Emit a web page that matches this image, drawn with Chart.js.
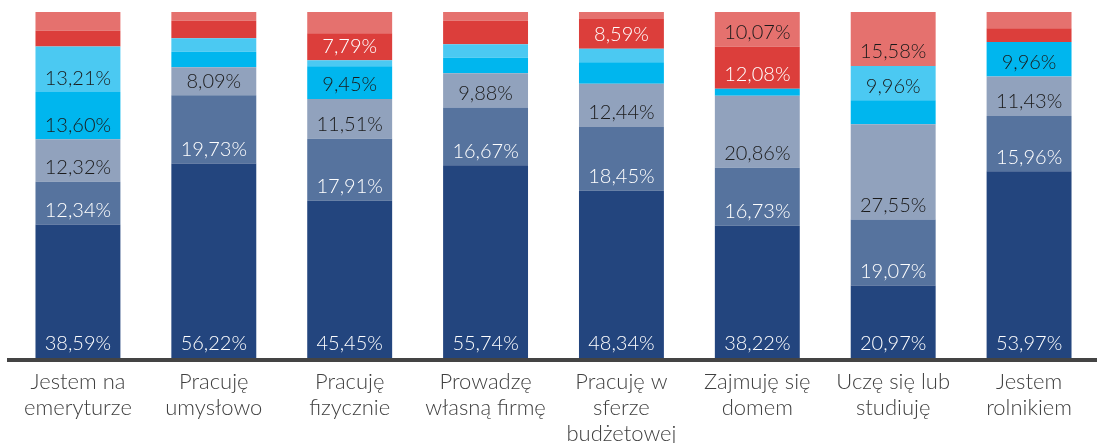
<!DOCTYPE html>
<html>
<head>
<meta charset="utf-8">
<script src="https://cdn.jsdelivr.net/npm/chart.js@4/dist/chart.umd.min.js"></script>
<style>
  html, body { margin: 0; padding: 0; background: #fff; }
  #wrap { width: 1097px; height: 443px; }
</style>
</head>
<body>
<div id="wrap"><canvas id="jobChart"></canvas></div>
<script>
// Kategorie (etykiety osi X, wieloliniowe)
const categories = [
  ['Jestem na', 'emeryturze'],
  ['Pracuję', 'umysłowo'],
  ['Pracuję', 'fizycznie'],
  ['Prowadzę', 'własną firmę'],
  ['Pracuję w', 'sferze', 'budżetowej'],
  ['Zajmuję się', 'domem'],
  ['Uczę się lub', 'studiuję'],
  ['Jestem', 'rolnikiem']
];

// Udziały procentowe, od dołu słupka do góry
const navy      = [38.59, 56.22, 45.45, 55.74, 48.34, 38.22, 20.97, 53.97];
const medium    = [12.34, 19.73, 17.91, 16.67, 18.45, 16.73, 19.07, 15.96];
const grey      = [12.32,  8.09, 11.51,  9.88, 12.44, 20.86, 27.55, 11.43];
const cyan      = [13.60,  4.46,  9.45,  4.51,  6.28,  2.04,  6.87,  9.96];
const lightCyan = [13.21,  3.90,  1.72,  3.90,  3.90,  0.00,  9.96,  0.00];
const red       = [ 4.50,  5.10,  7.79,  6.80,  8.59, 12.08,  0.00,  4.00];
const lightRed  = [ 5.44,  2.50,  6.17,  2.50,  2.00, 10.07, 15.58,  4.68];

const series = [
  { data: navy,      color: '#23457e', text: '#ffffff' },
  { data: medium,    color: '#56739e', text: '#ffffff' },
  { data: grey,      color: '#91a2bd', text: '#1a1a1a' },
  { data: cyan,      color: '#00b6ee', text: '#1a1a1a' },
  { data: lightCyan, color: '#4bc9f2', text: '#1a1a1a' },
  { data: red,       color: '#dc3e3b', text: '#ffffff' },
  { data: lightRed,  color: '#e5716e', text: '#1a1a1a' }
];

const LABEL_FONT = '300 20px Lato, "Open Sans", sans-serif';

// Etykiety wartości - przy dolnej krawędzi każdego segmentu
const valueLabels = {
  id: 'valueLabels',
  afterDatasetsDraw(chart) {
    const ctx = chart.ctx;
    ctx.save();
    ctx.font = LABEL_FONT;
    ctx.textAlign = 'center';
    ctx.textBaseline = 'middle';
    chart.data.datasets.forEach((ds, di) => {
      const meta = chart.getDatasetMeta(di);
      meta.data.forEach((bar, i) => {
        const v = ds.data[i];
        if (v < 7.5) return;
        ctx.fillStyle = ds.labelColor;
        ctx.fillText(v.toFixed(2).replace('.', ',') + '%', bar.x, bar.base - 14);
      });
    });
    ctx.restore();
  }
};

// Linia osi X pod słupkami
const axisLine = {
  id: 'axisLine',
  afterDatasetsDraw(chart) {
    const ctx = chart.ctx;
    ctx.save();
    ctx.fillStyle = '#444444';
    ctx.fillRect(7, chart.chartArea.bottom, chart.width - 7, 4);
    ctx.restore();
  }
};

const ctx = document.getElementById('jobChart').getContext('2d');

const jobChart = new Chart(ctx, {
  type: 'bar',
  data: {
    labels: categories,
    datasets: series.map(s => ({
      data: s.data,
      backgroundColor: s.color,
      labelColor: s.text,
      borderWidth: 0,
      categoryPercentage: 1,
      barPercentage: 0.625
    }))
  },
  options: {
    responsive: true,
    maintainAspectRatio: false,
    animation: false,
    layout: {
      padding: { top: 12, left: 10, right: -1, bottom: 0 }
    },
    scales: {
      x: {
        stacked: true,
        grid: { display: false },
        border: { display: false },
        ticks: {
          color: '#404040',
          font: { family: 'Lato, "Open Sans", sans-serif', size: 22, weight: '300', lineHeight: '26px' },
          padding: 3,
          maxRotation: 0,
          autoSkip: false
        },
        afterFit(scale) { scale.height = 85; }
      },
      y: {
        stacked: true,
        display: false,
        min: 0,
        max: 100
      }
    },
    plugins: {
      legend: { display: false },
      tooltip: { enabled: false }
    }
  },
  plugins: [valueLabels, axisLine]
});
</script>
</body>
</html>
